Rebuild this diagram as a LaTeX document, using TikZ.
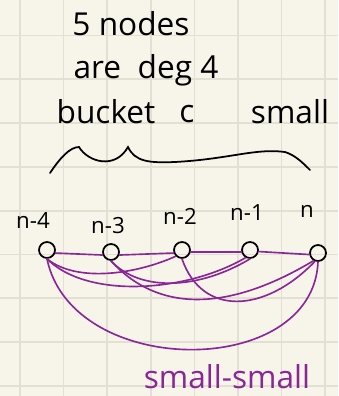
\documentclass[tikz,border=0pt]{standalone}
\usepackage{fontspec}
\setmainfont{Open Sans}
\usepackage{tikz}
\usetikzlibrary{arrows.meta, positioning}

\definecolor{paper}{RGB}{247,245,234}
\definecolor{gridline}{RGB}{226,224,211}
\definecolor{pen}{RGB}{138,38,150}

\begin{document}
\begin{tikzpicture}[x=0.03cm, y=-0.03cm,   % one unit = one pixel, y downwards
    vertex/.style={
        draw=black,
        circle,
        line width=1.5pt,
        minimum size=0.48cm,
        inner sep=0pt
    },
    edge/.style={draw=pen, line width=1.4pt, line cap=round},
    note/.style={font=\fontsize{27}{31}\selectfont, inner sep=0pt},
    lbl/.style={font=\fontsize{19}{22}\selectfont, inner sep=0pt}
]

    % 0. The paper
    \fill [paper] (0,0) rectangle (338,396);
    \useasboundingbox (0,0) rectangle (338,396);
    \foreach \gx in {20,63.6,...,330}
        \draw [gridline, line width=1.4pt] (\gx,0) -- (\gx,396);
    \foreach \gy in {35.5,79.3,...,390}
        \draw [gridline, line width=1.4pt] (0,\gy) -- (338,\gy);

    % 1. The note
    \node [note] (Line1) at (131,24) {5 nodes};
    \node [note] (Line2) at (146,70) {are\ \ deg 4};
    \node [note] (Bucket) at (106,112) {bucket};
    \node [note] (Cee) at (187,114) {c};
    \node [note] (Small) at (290,112) {small};

    % 2. The brace
    \draw [black, line width=1.5pt, line cap=round]
        (50,173) .. controls (60,158) and (70,147) .. (79,147)
        .. controls (88,162) and (115,170) .. (128,147)
        .. controls (135,162) and (150,163) .. (175,162)
        .. controls (230,159) and (255,148) .. (285,152)
        .. controls (295,155) and (303,163) .. (310,170);

    % 3. The nodes
    \node [vertex] (N4) at (47,250) {};
    \node [vertex] (N3) at (111,252) {};
    \node [vertex] (N2) at (182,250) {};
    \node [vertex] (N1) at (250,250) {};
    \node [vertex] (N)  at (318,253) {};

    \node [lbl] (L4) at (33,221) {n-4};
    \node [lbl] (L3) at (108,226) {n-3};
    \node [lbl] (L2) at (180,216) {n-2};
    \node [lbl] (L1) at (247,213) {n-1};
    \node [lbl] (L)  at (307,211) {n};

    % 4. The small-small edges
    \draw [edge] (N4.-20) -- (N3.200);
    \draw [edge] (N3.-20) -- (N2.200);
    \draw [edge] (N2.-15) -- (N1.195);
    \draw [edge] (N1.-10) -- (N.190);

    \draw [edge] (N4.south) .. controls +(30,24) and +(-40,18) .. (N2.225);
    \draw [edge] (N4.south) .. controls +(40,40) and +(-60,35) .. (N1.240);
    \draw [edge] (N4.south) .. controls +(25,120) and +(-5,118) .. (N.south);
    \draw [edge] (N3.south) .. controls +(30,32) and +(-50,30) .. (N1.south);
    \draw [edge] (N3.south) .. controls +(50,55) and +(-80,48) .. (N.240);
    \draw [edge] (N2.south) .. controls +(20,58) and +(-50,52) .. (N.250);

    % 5. The caption
    \node [note, text=pen] (Caption) at (227,377) {small-small};

\end{tikzpicture}
\end{document}
